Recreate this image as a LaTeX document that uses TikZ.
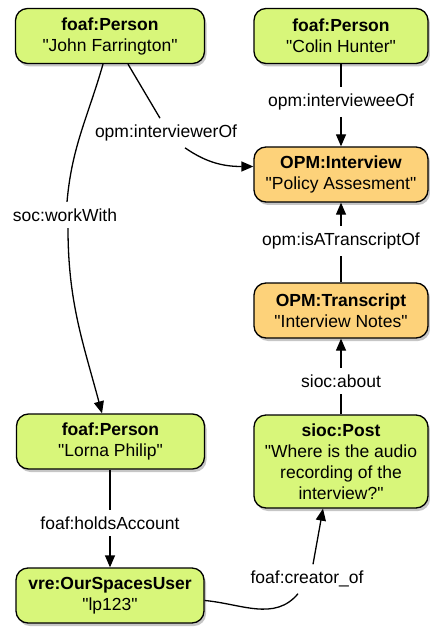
\documentclass[tikz,border=0pt]{standalone}
\usepackage{fontspec}
\setmainfont{Liberation Sans}
\usetikzlibrary{arrows.meta,shadows}
\definecolor{termgreen}{RGB}{216,246,122}
\definecolor{termorange}{RGB}{253,210,122}
\newcommand\lit[1]{\textquotedbl#1\textquotedbl}
\tikzset{
  res/.style={draw,line width=1.3pt,rounded corners=12pt,align=center,inner sep=6pt,minimum height=55pt,
    drop shadow={shadow xshift=2pt,shadow yshift=-3pt,opacity=.45}},
  agent/.style={res,fill=termgreen},
  artifact/.style={res,fill=termorange},
  prop/.style={inner sep=6pt}
}

\begin{document}
\begin{tikzpicture}[x=1pt,y=1pt,>={Triangle[length=12pt,width=10pt]},line width=1.3pt,font=\fontsize{17.5}{21}\selectfont]
\useasboundingbox (0,0) rectangle (430,-628);
% --- resources
\node[agent,minimum width=189pt] (john) at (110,-36) {\textbf{foaf:Person}\\\lit{John Farrington}};
\node[agent,minimum width=174pt] (colin) at (341,-36) {\textbf{foaf:Person}\\\lit{Colin Hunter}};
\node[artifact,minimum width=174pt] (interview) at (341,-174.5) {\textbf{OPM:Interview}\\\lit{Policy Assesment}};
\node[artifact,minimum width=174pt] (transcript) at (341,-310.5) {\textbf{OPM:Transcript}\\\lit{Interview Notes}};
\node[agent,minimum width=174pt,minimum height=93pt] (post) at (341,-461.5) {\textbf{sioc:Post}\\\textquotedbl Where is the audio\\recording of the\\interview?\textquotedbl};
\node[agent,minimum width=188pt] (lorna) at (110.5,-441.5) {\textbf{foaf:Person}\\\lit{Lorna Philip}};
\node[agent,minimum width=188pt] (user) at (110,-595.5) {\textbf{vre:OurSpacesUser}\\\lit{lp123}};
% --- properties
\node[prop] (lie) at (341,-102) {opm:intervieweeOf};
\node[prop] (lio) at (166,-133) {opm:interviewerOf};
\node[prop] (lww) at (65,-215) {soc:workWith};
\node[prop] (lat) at (341,-241) {opm:isATranscriptOf};
\node[prop] (lab) at (341,-381) {sioc:about};
\node[prop] (lha) at (110,-523) {foaf:holdsAccount};
\node[prop] (lco) at (307,-579) {foaf:creator\_of};
% --- links
\draw (colin) -- (lie);
\draw[->] (lie) -- (interview);
\draw (transcript) -- (lat);
\draw[->] (lat) -- (interview);
\draw (post) -- (lab);
\draw[->] (lab) -- (transcript);
\draw (lha |- lorna.south) -- (lha);
\draw[->] (lha) -- (lha |- user.north);
\draw ([xshift=18pt]john.south) -- ([xshift=-6pt]lio.north);
\draw[->] ([xshift=19pt]lio.south) to[out=-35,in=180] ([yshift=8pt]interview.west);
\draw ([xshift=-7pt]john.south) to[out=-106,in=85] ([xshift=2pt]lww.north);
\draw[->] ([xshift=3pt]lww.south) to[out=-90,in=105] ([xshift=-8.5pt]lorna.north);
\draw ([yshift=-5pt]user.east) to[out=-5,in=-130] ([xshift=-9pt]lco.south);
\draw[->] ([xshift=6pt]lco.north) -- ([xshift=-18pt]post.south);
\end{tikzpicture}
\end{document}
